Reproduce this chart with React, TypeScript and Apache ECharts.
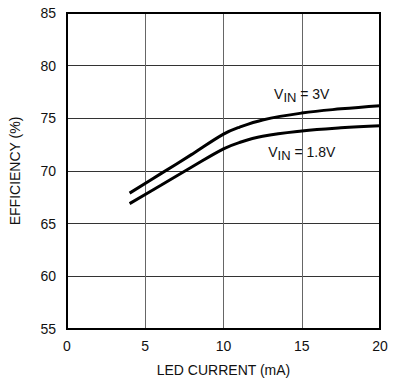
import React, { useEffect, useRef } from "react";
import * as echarts from "echarts";

const currentMA = [4, 6, 8, 10, 11, 12.5, 15, 17.5, 20];
const effVin3V = [67.9, 69.75, 71.6, 73.5, 74.15, 74.85, 75.5, 75.9, 76.2];
const effVin18V = [66.9, 68.65, 70.4, 72.1, 72.7, 73.3, 73.8, 74.1, 74.3];
const xTicks = [0, 5, 10, 15, 20];
const yTicks = [55, 60, 65, 70, 75, 80, 85];
const labelPos3V = [15, 77.3];
const labelPos18V = [15, 71.8];

const FONT = "'Liberation Sans', Arial, sans-serif";

export default function App() {
  const ref = useRef<HTMLDivElement>(null);
  useEffect(() => {
    if (!ref.current) return;
    const chart = echarts.init(ref.current, undefined, { renderer: "svg" });
    const rich = {
      v: { fontSize: 14, fontFamily: FONT, color: "#111" },
      s: { fontSize: 13, fontFamily: FONT, color: "#111", padding: [7, 0, 0, 0] },
    };
    const mk = (pos: number[], txt: string) => ({
      symbol: "circle",
      symbolSize: 0,
      silent: true,
      data: [
        {
          coord: pos,
          label: {
            show: true,
            position: "inside",
            formatter: `{v|V}{s|IN}{v| = ${txt}}`,
            rich,
          },
        },
      ],
    });
    chart.setOption({
      animation: false,
      grid: {
        left: 64,
        top: 13,
        width: 316,
        height: 316,
        show: true,
        borderColor: "#000",
        borderWidth: 2,
        z: 3,
      },
      xAxis: {
        type: "value",
        min: 0,
        max: 20,
        interval: 5,
        name: "LED CURRENT (mA)",
        nameLocation: "middle",
        nameGap: 34,
        nameTextStyle: { fontSize: 14, fontFamily: FONT, color: "#111" },
        axisLine: { show: false },
        axisTick: { show: false },
        axisLabel: {
          fontSize: 14,
          fontFamily: FONT,
          color: "#111",
          margin: 10,
          formatter: (v: number) => (xTicks.includes(v) ? String(v) : ""),
        },
        splitLine: { show: true, lineStyle: { color: "#666", width: 1 } },
      },
      yAxis: {
        type: "value",
        min: 55,
        max: 85,
        interval: 5,
        name: "EFFICIENCY (%)",
        nameLocation: "middle",
        nameGap: 45,
        nameTextStyle: { fontSize: 14, fontFamily: FONT, color: "#111" },
        axisLine: { show: false },
        axisTick: { show: false },
        axisLabel: {
          fontSize: 14,
          fontFamily: FONT,
          color: "#111",
          margin: 11,
          formatter: (v: number) => (yTicks.includes(v) ? String(v) : ""),
        },
        splitLine: { show: true, lineStyle: { color: "#333", width: 1 } },
      },
      series: [
        {
          type: "line",
          name: "VIN = 3V",
          data: currentMA.map((x, i) => [x, effVin3V[i]]),
          smooth: 0.4,
          showSymbol: false,
          lineStyle: { color: "#000", width: 3 },
          markPoint: mk(labelPos3V, "3V"),
          z: 4,
        },
        {
          type: "line",
          name: "VIN = 1.8V",
          data: currentMA.map((x, i) => [x, effVin18V[i]]),
          smooth: 0.4,
          showSymbol: false,
          lineStyle: { color: "#000", width: 3 },
          markPoint: mk(labelPos18V, "1.8V"),
          z: 4,
        },
      ],
    });
    return () => chart.dispose();
  }, []);
  return (
    <div
      ref={ref}
      style={{ width: 393, height: 385, position: "absolute", left: 0, top: 0, background: "#fff" }}
    />
  );
}
